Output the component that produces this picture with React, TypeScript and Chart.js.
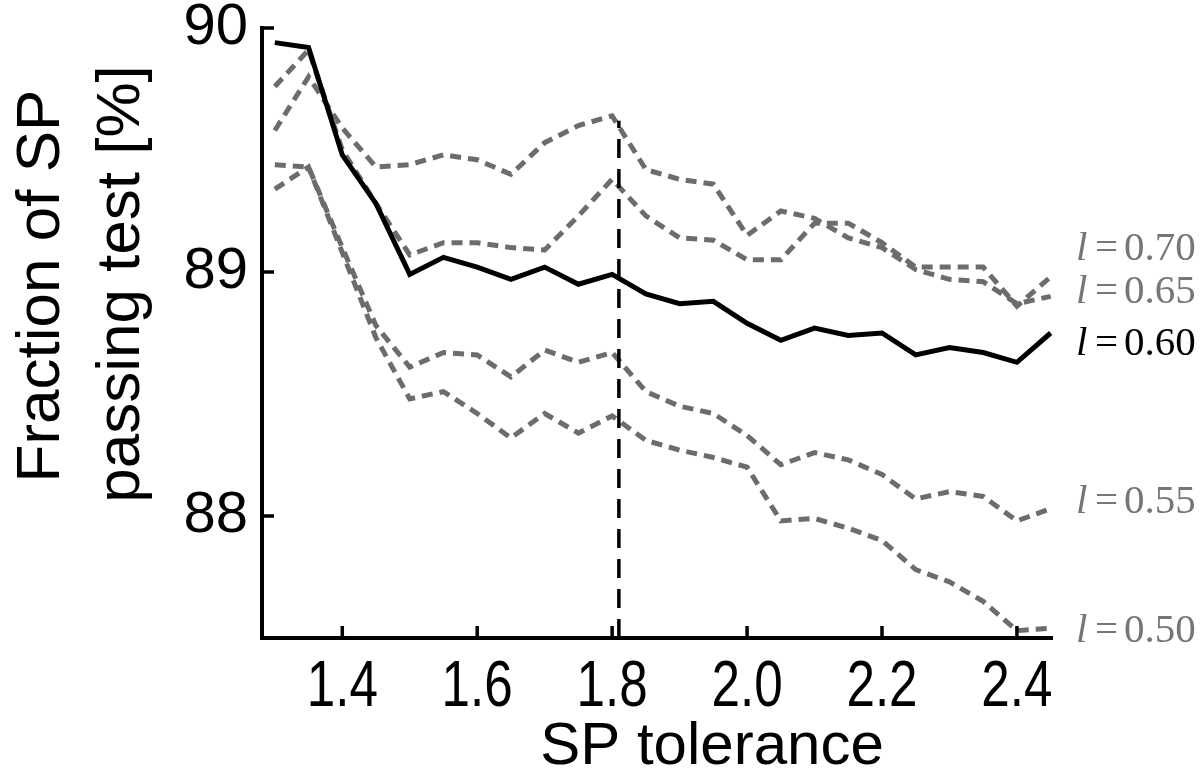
import React, { useEffect, useRef } from "react";
import { Chart, registerables } from "chart.js";

Chart.register(...registerables);

// SP tolerance values (x)
const tolerance = [1.30, 1.35, 1.40, 1.45, 1.50, 1.55, 1.60, 1.65, 1.70, 1.75, 1.80, 1.85,
  1.90, 1.95, 2.00, 2.05, 2.10, 2.15, 2.20, 2.25, 2.30, 2.35, 2.40, 2.45];

// Fraction of SP passing test [%] for each l
const l060 = [89.94, 89.92, 89.48, 89.28, 88.99, 89.06, 89.02, 88.97, 89.02, 88.95, 88.99, 88.91,
  88.87, 88.88, 88.79, 88.72, 88.77, 88.74, 88.75, 88.66, 88.69, 88.67, 88.63, 88.75];
const l070 = [89.58, 89.80, 89.59, 89.43, 89.44, 89.48, 89.46, 89.40, 89.53, 89.60, 89.64, 89.42,
  89.38, 89.36, 89.15, 89.25, 89.22, 89.14, 89.10, 89.01, 88.97, 88.96, 88.87, 88.90];
const l065 = [89.76, 89.91, 89.50, 89.28, 89.07, 89.12, 89.12, 89.10, 89.09, 89.23, 89.38, 89.23,
  89.14, 89.13, 89.05, 89.05, 89.20, 89.20, 89.12, 89.02, 89.02, 89.02, 88.86, 88.98];
const l055 = [89.44, 89.43, 89.10, 88.78, 88.61, 88.67, 88.66, 88.57, 88.68, 88.63, 88.67, 88.51,
  88.45, 88.42, 88.33, 88.21, 88.26, 88.23, 88.17, 88.07, 88.10, 88.08, 87.98, 88.03];
const l050 = [89.34, 89.43, 89.08, 88.73, 88.48, 88.51, 88.42, 88.32, 88.42, 88.34, 88.41, 88.31,
  88.27, 88.24, 88.20, 87.98, 87.99, 87.95, 87.90, 87.78, 87.73, 87.65, 87.53, 87.54];

// chosen tolerance marker
const chosenTolerance = 1.81;
const markerTop = 89.62;

// axis ticks
const xTicks = [1.4, 1.6, 1.8, 2.0, 2.2, 2.4];
const yTicks = [88, 89, 90];
const xRange = [1.281, 2.452];
const yRange = [87.5, 90];

// right-hand labels
const labelValues = ["0.70", "0.65", "0.60", "0.55", "0.50"];
const labelAnchors = [89.093, 88.919, 88.704, 88.058, 87.527];
const labelIsMain = [false, false, true, false, false];

const GRAY = "#6c6c6c";
const GRAY_TEXT = "#767676";

const pts = (ys: number[]) => tolerance.map((x, i) => ({ x, y: ys[i] }));

const decorPlugin = {
  id: "decor",
  afterDraw(chart: any) {
    const { ctx, chartArea, scales } = chart;
    const xs = scales.x;
    const ys = scales.y;
    ctx.save();
    // inward ticks
    ctx.strokeStyle = "#000";
    ctx.lineWidth = 3.5;
    ctx.lineCap = "butt";
    ctx.beginPath();
    yTicks.forEach((v) => {
      const y = ys.getPixelForValue(v);
      ctx.moveTo(chartArea.left, y);
      ctx.lineTo(chartArea.left + 12, y);
    });
    xTicks.forEach((v) => {
      const x = xs.getPixelForValue(v);
      ctx.moveTo(x, chartArea.bottom);
      ctx.lineTo(x, chartArea.bottom - 12);
    });
    ctx.stroke();

    // x tick labels (condensed sans, as in the original)
    ctx.fillStyle = "#000";
    ctx.font = '64px "Liberation Sans", Arial, sans-serif';
    ctx.textAlign = "center";
    ctx.textBaseline = "alphabetic";
    xTicks.forEach((v) => {
      const x = xs.getPixelForValue(v);
      ctx.save();
      ctx.translate(x, chartArea.bottom + 68);
      ctx.scale(0.8, 1);
      ctx.fillText(v.toFixed(1), 0, 0);
      ctx.restore();
    });

    // axis titles
    ctx.font = '60px "Liberation Sans", Arial, sans-serif';
    ctx.fillText("SP tolerance", 712, 764);

    ctx.font = '62px "Liberation Sans", Arial, sans-serif';
    ctx.save();
    ctx.translate(59, 286);
    ctx.rotate(-Math.PI / 2);
    ctx.fillText("Fraction of SP", 0, 0);
    ctx.restore();
    ctx.save();
    ctx.translate(139, 284);
    ctx.rotate(-Math.PI / 2);
    ctx.fillText("passing test [%]", 0, 0);
    ctx.restore();

    // right labels
    ctx.textAlign = "left";
    ctx.textBaseline = "middle";
    const x0 = chartArea.right + 24;
    labelValues.forEach((t, i) => {
      const y = ys.getPixelForValue(labelAnchors[i]);
      ctx.fillStyle = labelIsMain[i] ? "#000" : GRAY_TEXT;
      ctx.font = 'italic 41px "Liberation Serif", "Times New Roman", serif';
      ctx.fillText("l", x0, y);
      ctx.font = '41px "Liberation Serif", "Times New Roman", serif';
      ctx.fillText("=", x0 + 19, y);
      ctx.fillText(t, x0 + 48, y);
    });
    ctx.restore();
  },
};

export default function App() {
  const ref = useRef<HTMLCanvasElement | null>(null);

  useEffect(() => {
    document.body.style.margin = "0";
    if (!ref.current) return;
    const grayDs = (data: number[], label: string) => ({
      label,
      data: pts(data),
      borderColor: GRAY,
      borderWidth: 5,
      borderDash: [11, 7],
      pointRadius: 0,
      fill: false,
      tension: 0,
    });
    const chart = new Chart(ref.current, {
      type: "line",
      data: {
        datasets: [
          {
            label: "l = 0.60",
            data: pts(l060),
            borderColor: "#000",
            borderWidth: 5,
            pointRadius: 0,
            fill: false,
            tension: 0,
          },
          {
            label: "chosen",
            data: [
              { x: chosenTolerance, y: yRange[0] },
              { x: chosenTolerance, y: markerTop },
            ],
            borderColor: "#000",
            borderWidth: 3.5,
            borderDash: [19, 11],
            pointRadius: 0,
            fill: false,
          },
          grayDs(l070, "l = 0.70"),
          grayDs(l065, "l = 0.65"),
          grayDs(l055, "l = 0.55"),
          grayDs(l050, "l = 0.50"),
        ],
      },
      options: {
        responsive: false,
        animation: false,
        devicePixelRatio: 1,
        layout: { padding: { top: 28, right: 148, left: 0, bottom: 0 } },
        plugins: {
          legend: { display: false },
          tooltip: { enabled: false },
          title: { display: false },
        },
        scales: {
          x: {
            type: "linear",
            min: xRange[0],
            max: xRange[1],
            grid: { display: false, drawTicks: false },
            border: { display: true, color: "#000", width: 4 },
            afterBuildTicks: (s: any) => {
              s.ticks = xTicks.map((v) => ({ value: v }));
            },
            afterFit: (s: any) => {
              s.height = 133;
              s.paddingLeft = 0;
              s.paddingRight = 0;
            },
            ticks: { display: false },
          },
          y: {
            type: "linear",
            min: yRange[0],
            max: yRange[1],
            grid: { display: false, drawTicks: false },
            border: { display: true, color: "#000", width: 4 },
            afterBuildTicks: (s: any) => {
              s.ticks = yTicks.map((v) => ({ value: v }));
            },
            afterFit: (s: any) => {
              s.width = 262;
              s.paddingTop = 0;
              s.paddingBottom = 0;
            },
            ticks: {
              padding: 14,
              color: "#000",
              autoSkip: false,
              font: { family: '"Liberation Sans", Arial, sans-serif', size: 58 },
              callback: (v: any) => String(v),
            },
          },
        },
      },
      plugins: [decorPlugin],
    });
    return () => chart.destroy();
  }, []);

  return (
    <div style={{ position: "absolute", left: 0, top: 0, width: 1200, height: 771, background: "#fff" }}>
      <canvas ref={ref} width={1200} height={771} style={{ display: "block", width: 1200, height: 771 }} />
    </div>
  );
}
